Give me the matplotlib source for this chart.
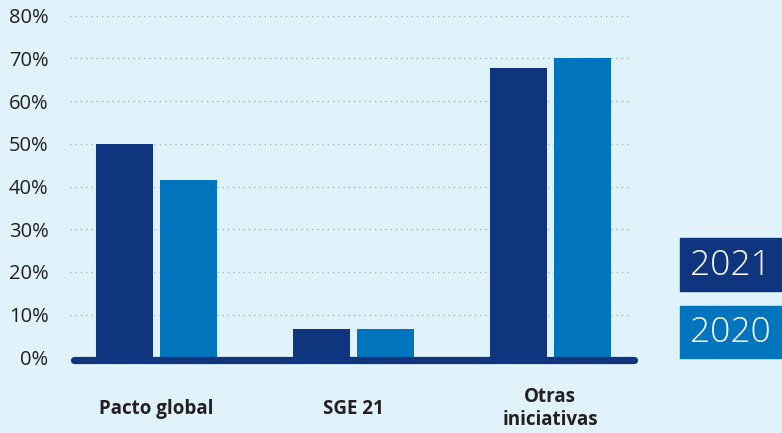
import numpy as np
import matplotlib.pyplot as plt
from matplotlib.patches import Rectangle

# data
categories = ["Pacto global", "SGE 21", "Otras\niniciativas"]
vals_2021 = [50, 6.6, 67.8]
vals_2020 = [41.5, 6.6, 70]
ticks = [0, 10, 20, 30, 40, 50, 60, 70, 80]

dark = "#10357f"
light = "#0075bd"
bg = "#e0f2fa"
txt = "#231f20"

plt.rcParams['font.family'] = ['Open Sans', 'DejaVu Sans']

fig = plt.figure(figsize=(7.82, 4.33), dpi=100, facecolor=bg)
ax = fig.add_axes([70/782, 1-357.3/433, (632-70)/782, (357.3-7.2)/433])
ax.set_facecolor(bg)

x = np.arange(len(categories))
w = 0.289
off = 0.1625
ax.bar(x - off, vals_2021, w, color=dark, zorder=3)
ax.bar(x + off, vals_2020, w, color=light, zorder=3)

ax.set_xlim(-0.438, 2.416)
ax.set_ylim(0, 82)
ax.set_yticks(ticks)
ax.set_yticklabels([f"{t}%" for t in ticks], fontsize=14.5, color=txt)
ax.tick_params(axis='y', length=0, pad=15.5)
ax.set_xticks([])

# category labels, vertically centred under each group
label_y = -(408.5 - 357.3) / (357.3 - 7.2)
for xi, c in zip(x, categories):
    ax.text(xi, label_y, c, transform=ax.get_xaxis_transform(),
            ha='center', va='center', fontsize=13.5, fontweight='bold',
            color=txt, linespacing=1.25)

for t in ticks[1:]:
    ax.axhline(t, color="#a3a8b0", lw=0.9, ls=(0, (1, 3.2)), zorder=1)

for s in ax.spines.values():
    s.set_visible(False)

# thick baseline with rounded caps
ax.plot([-0.42, 2.424], [-0.55, -0.55], color=dark, lw=5.2,
        solid_capstyle='round', clip_on=False, zorder=4)

# year boxes on the right
for y0, col, lab in [(238.3, dark, "2021"), (306, light, "2020")]:
    fig.patches.append(Rectangle((680/782, 1-(y0+52.4)/433), 102/782, 52.4/433,
                                 transform=fig.transFigure, color=col, zorder=5))
    fig.text(730/782, 1-(y0+27)/433, lab, color="white", fontsize=25.5,
             fontweight='light', ha='center', va='center', zorder=6)

fig.savefig("out.png", dpi=100, facecolor=bg)
